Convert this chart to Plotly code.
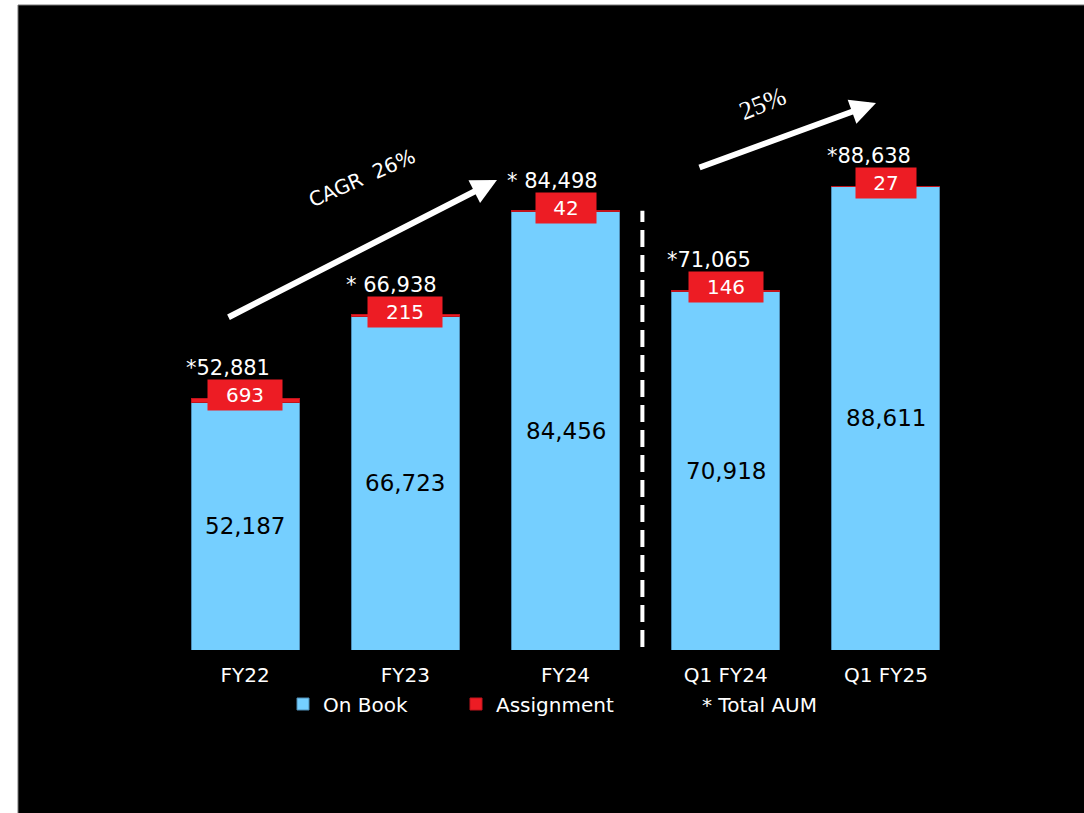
import plotly.graph_objects as go

# ---- data ----
categories = ["FY22", "FY23", "FY24", "Q1 FY24", "Q1 FY25"]
on_book = [52187, 66723, 84456, 70918, 88611]
assignment = [693, 215, 42, 146, 27]
total_aum = [52881, 66938, 84498, 71065, 88638]
total_labels = ["*52,881", "* 66,938", "* 84,498", "*71,065", "*88,638"]
on_book_labels = ["52,187", "66,723", "84,456", "70,918", "88,611"]
assignment_labels = ["693", "215", "42", "146", "27"]
cagr_text = "CAGR  26%"
yoy_text = "25%"

# ---- style / geometry ----
W, H = 1084, 813
L, R, T, B = 165, 118, 119, 163
PW, PH = W - L - R, H - T - B
Y_MIN, Y_MAX = 10400, 100000
BLUE = "#75CFFF"
RED = "#ED1C24"
FONT = "DejaVu Sans"


def px_x(p):
    return (p - L) / PW


def px_y(p):
    return (H - B - p) / PH


fig = go.Figure()
fig.add_trace(go.Bar(
    x=categories, y=on_book, name="On Book",
    marker=dict(color=BLUE, line=dict(color="#4F8DB5", width=1)),
    legend="legend", hoverinfo="skip",
))
fig.add_trace(go.Bar(
    x=categories, y=assignment, name="Assignment",
    marker=dict(color=RED, line=dict(color="#C0141C", width=1)),
    legend="legend2", hoverinfo="skip",
))
fig.add_trace(go.Scatter(
    x=[None], y=[None], name="* Total AUM", mode="markers",
    marker=dict(size=0, color="rgba(0,0,0,0)"),
    legend="legend3", hoverinfo="skip",
))

annotations = []
for cat, ob, oblab, tot, lab, alab in zip(categories, on_book, on_book_labels,
                                          total_aum, total_labels, assignment_labels):
    # on-book value in the middle of the visible bar
    annotations.append(dict(
        x=cat, y=(Y_MIN + ob) / 2, xref="x", yref="y", text=oblab, showarrow=False,
        xanchor="center", yanchor="middle",
        font=dict(color="black", size=23, family=FONT),
    ))
    annotations.append(dict(
        x=cat, y=tot, xref="x", yref="y", text=lab, showarrow=False,
        xanchor="left", yanchor="middle", xshift=-61, yshift=30,
        font=dict(color="white", size=21, family=FONT),
    ))
    annotations.append(dict(
        x=cat, y=tot, xref="x", yref="y", text=alab, showarrow=False,
        xanchor="center", yanchor="middle", yshift=3,
        width=14 * len(alab) + 32, height=30, borderpad=0,
        bgcolor=RED, font=dict(color="white", size=20, family=FONT),
    ))

# growth arrows
annotations.append(dict(
    x=px_x(497), y=px_y(180), xref="paper", yref="paper",
    ax=227 - 497, ay=318 - 180, axref="pixel", ayref="pixel",
    showarrow=True, arrowhead=2, arrowsize=0.85, arrowwidth=6,
    arrowcolor="white", text="",
))
annotations.append(dict(
    x=px_x(876), y=px_y(103), xref="paper", yref="paper",
    ax=698 - 876, ay=168 - 103, axref="pixel", ayref="pixel",
    showarrow=True, arrowhead=2, arrowsize=0.85, arrowwidth=6,
    arrowcolor="white", text="",
))
annotations.append(dict(
    x=px_x(362), y=px_y(178), xref="paper", yref="paper", text=cagr_text,
    showarrow=False, textangle=-24, xanchor="center", yanchor="middle",
    font=dict(color="white", size=20, family=FONT),
))
annotations.append(dict(
    x=px_x(763), y=px_y(104), xref="paper", yref="paper", text=yoy_text,
    showarrow=False, textangle=-22, xanchor="center", yanchor="middle",
    font=dict(color="white", size=26, family="Liberation Serif"),
))

shapes = [
    dict(type="rect", xref="paper", yref="paper",
         x0=px_x(18), x1=px_x(W + 2), y0=px_y(H + 2), y1=px_y(5),
         fillcolor="black", line=dict(color="#777777", width=1), layer="below"),
    dict(type="line", xref="x", yref="y",
         x0=2.48, x1=2.48, y0=Y_MIN + 500, y1=total_aum[2],
         line=dict(color="white", width=4, dash="17px,8px")),
]

legend_common = dict(
    orientation="h", yanchor="middle", xanchor="left",
    bgcolor="rgba(0,0,0,0)", borderwidth=0,
    font=dict(color="white", size=20, family=FONT),
)

fig.update_layout(
    width=W, height=H,
    margin=dict(l=L, r=R, t=T, b=B, autoexpand=False),
    paper_bgcolor="white", plot_bgcolor="black",
    barmode="stack", bargap=0.325,
    xaxis=dict(
        showgrid=False, zeroline=False, showline=False,
        ticks="outside", ticklen=7, tickcolor="rgba(0,0,0,0)",
        tickfont=dict(color="white", size=20, family=FONT),
    ),
    yaxis=dict(
        range=[Y_MIN, Y_MAX], showgrid=False, zeroline=False,
        showline=False, showticklabels=False, ticks="",
    ),
    legend=dict(x=px_x(283), y=px_y(704), **legend_common),
    legend2=dict(x=px_x(456), y=px_y(704), **legend_common),
    legend3=dict(x=px_x(662), y=px_y(704), **legend_common),
    annotations=annotations,
    shapes=shapes,
    showlegend=True,
    hovermode=False,
)

fig.write_html(
    "out.html",
    config={"displayModeBar": False},
    post_script="document.body.style.margin='0px';",
)
